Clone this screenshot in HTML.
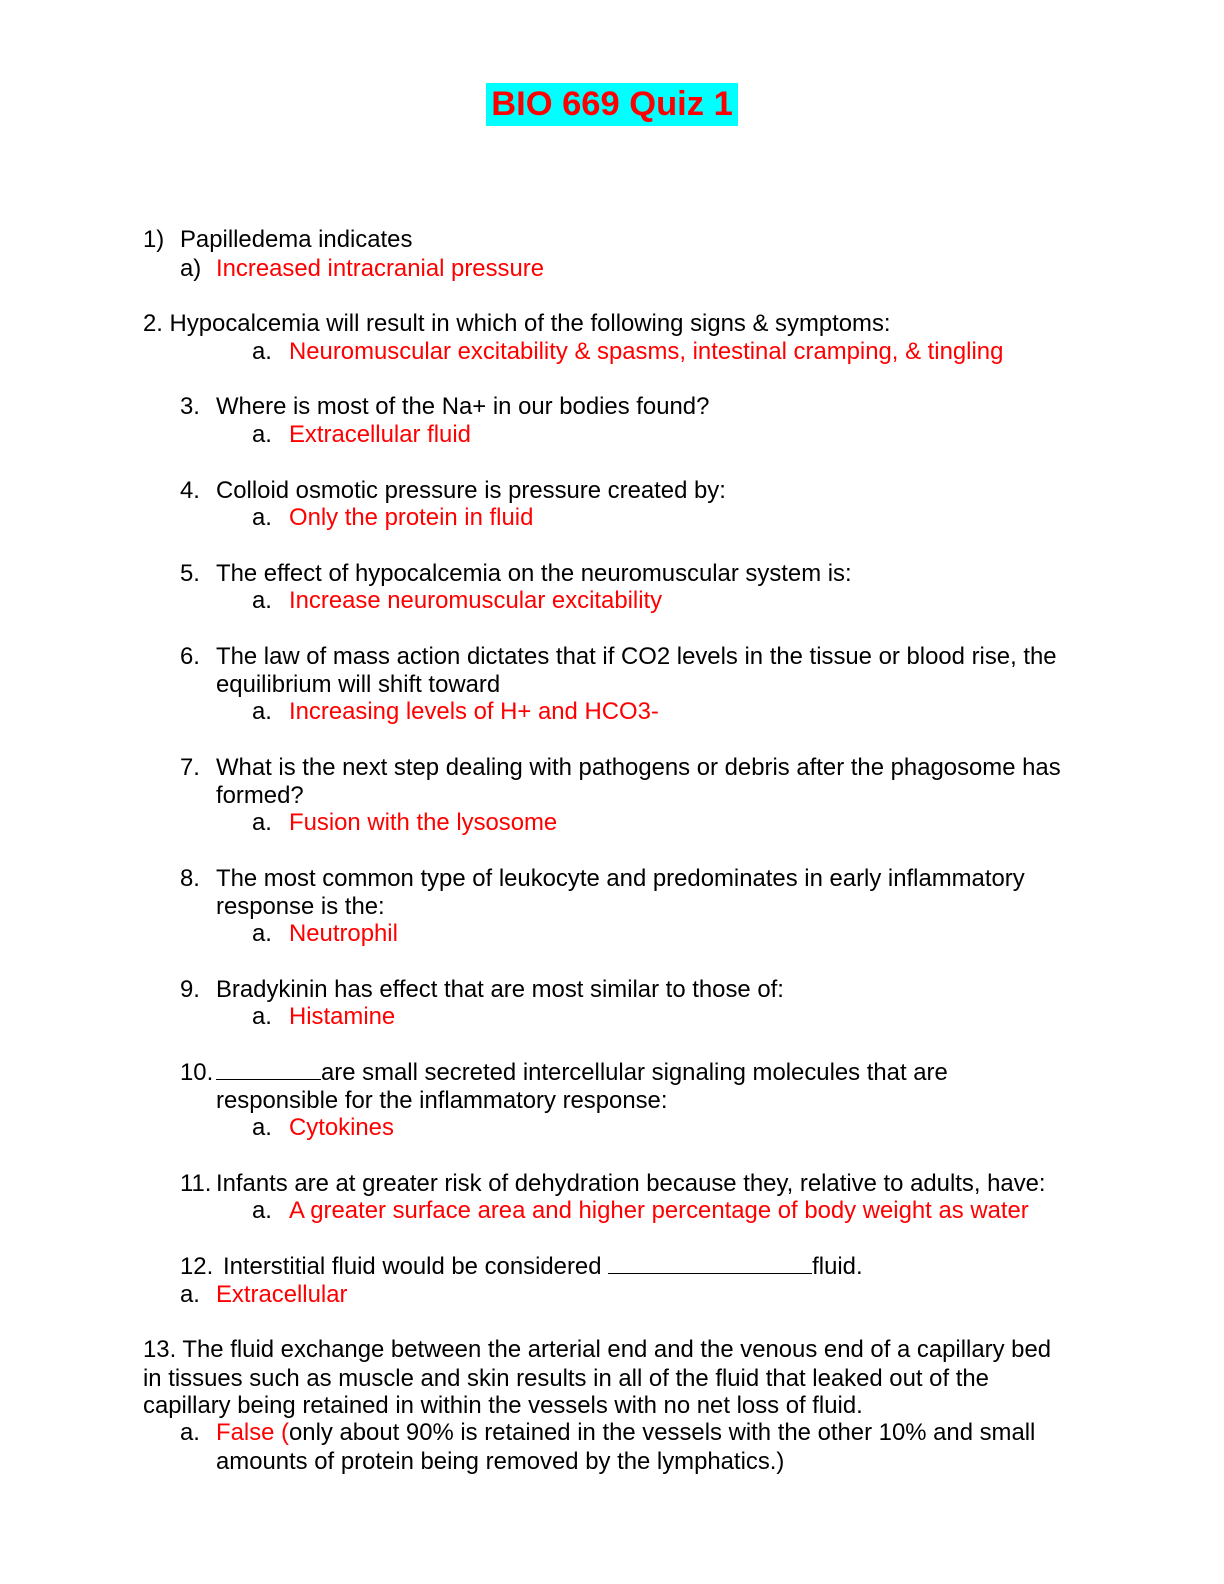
<!DOCTYPE html>
<html><head><meta charset="utf-8"><style>
html,body{margin:0;padding:0;background:#fff;}
body{width:1224px;height:1584px;position:relative;font-family:"Liberation Sans",Arial,sans-serif;font-size:23.9px;color:#000;}
.l{position:absolute;white-space:nowrap;line-height:28px;}
.r{color:#f00;}
.title{position:absolute;left:486px;top:83px;width:252px;height:43px;background:#0ff;color:#f00;font-weight:bold;font-size:34.5px;line-height:43px;text-align:center;white-space:nowrap;}
.u{display:inline-block;border-bottom:1.5px solid #000;height:20px;vertical-align:baseline;}
</style></head><body>
<div class="title">BIO 669 Quiz 1</div>

<div class="l" style="left:143px;top:226px">1)</div>
<div class="l" style="left:180px;top:226px">Papilledema indicates</div>
<div class="l" style="left:180px;top:255px">a)</div>
<div class="l r" style="left:216px;top:255px">Increased intracranial pressure</div>

<div class="l" style="left:143px;top:310px">2. Hypocalcemia will result in which of the following signs &amp; symptoms:</div>
<div class="l" style="left:252px;top:338px">a.</div>
<div class="l r" style="left:289px;top:338px">Neuromuscular excitability &amp; spasms, intestinal cramping, &amp; tingling</div>

<div class="l" style="left:180px;top:393px">3.</div>
<div class="l" style="left:216px;top:393px">Where is most of the Na+ in our bodies found?</div>
<div class="l" style="left:252px;top:421px">a.</div>
<div class="l r" style="left:289px;top:421px">Extracellular fluid</div>

<div class="l" style="left:180px;top:477px">4.</div>
<div class="l" style="left:216px;top:477px">Colloid osmotic pressure is pressure created by:</div>
<div class="l" style="left:252px;top:504px">a.</div>
<div class="l r" style="left:289px;top:504px">Only the protein in fluid</div>

<div class="l" style="left:180px;top:560px">5.</div>
<div class="l" style="left:216px;top:560px">The effect of hypocalcemia on the neuromuscular system is:</div>
<div class="l" style="left:252px;top:587px">a.</div>
<div class="l r" style="left:289px;top:587px">Increase neuromuscular excitability</div>

<div class="l" style="left:180px;top:643px">6.</div>
<div class="l" style="left:216px;top:643px">The law of mass action dictates that if CO2 levels in the tissue or blood rise, the</div>
<div class="l" style="left:216px;top:671px">equilibrium will shift toward</div>
<div class="l" style="left:252px;top:698px">a.</div>
<div class="l r" style="left:289px;top:698px">Increasing levels of H+ and HCO3-</div>

<div class="l" style="left:180px;top:754px">7.</div>
<div class="l" style="left:216px;top:754px">What is the next step dealing with pathogens or debris after the phagosome has</div>
<div class="l" style="left:216px;top:782px">formed?</div>
<div class="l" style="left:252px;top:809px">a.</div>
<div class="l r" style="left:289px;top:809px">Fusion with the lysosome</div>

<div class="l" style="left:180px;top:865px">8.</div>
<div class="l" style="left:216px;top:865px">The most common type of leukocyte and predominates in early inflammatory</div>
<div class="l" style="left:216px;top:893px">response is the:</div>
<div class="l" style="left:252px;top:920px">a.</div>
<div class="l r" style="left:289px;top:920px">Neutrophil</div>

<div class="l" style="left:180px;top:976px">9.</div>
<div class="l" style="left:216px;top:976px">Bradykinin has effect that are most similar to those of:</div>
<div class="l" style="left:252px;top:1003px">a.</div>
<div class="l r" style="left:289px;top:1003px">Histamine</div>

<div class="l" style="left:180px;top:1059px">10.</div>
<div class="l" style="left:216px;top:1059px"><span class="u" style="width:105px"></span>are small secreted intercellular signaling molecules that are</div>
<div class="l" style="left:216px;top:1087px">responsible for the inflammatory response:</div>
<div class="l" style="left:252px;top:1114px">a.</div>
<div class="l r" style="left:289px;top:1114px">Cytokines</div>

<div class="l" style="left:180px;top:1170px">11.</div>
<div class="l" style="left:216px;top:1170px">Infants are at greater risk of dehydration because they, relative to adults, have:</div>
<div class="l" style="left:252px;top:1197px">a.</div>
<div class="l r" style="left:289px;top:1197px">A greater surface area and higher percentage of body weight as water</div>

<div class="l" style="left:180px;top:1253px">12.</div>
<div class="l" style="left:223px;top:1253px">Interstitial fluid would be considered <span class="u" style="width:204px"></span>fluid.</div>
<div class="l" style="left:180px;top:1281px">a.</div>
<div class="l r" style="left:216px;top:1281px">Extracellular</div>

<div class="l" style="left:143px;top:1336px">13. The fluid exchange between the arterial end and the venous end of a capillary bed</div>
<div class="l" style="left:143px;top:1365px">in tissues such as muscle and skin results in all of the fluid that leaked out of the</div>
<div class="l" style="left:143px;top:1392px">capillary being retained in within the vessels with no net loss of fluid.</div>
<div class="l" style="left:180px;top:1419px">a.</div>
<div class="l" style="left:216px;top:1419px"><span class="r">False (</span>only about 90% is retained in the vessels with the other 10% and small</div>
<div class="l" style="left:216px;top:1448px">amounts of protein being removed by the lymphatics.)</div>
</body></html>
